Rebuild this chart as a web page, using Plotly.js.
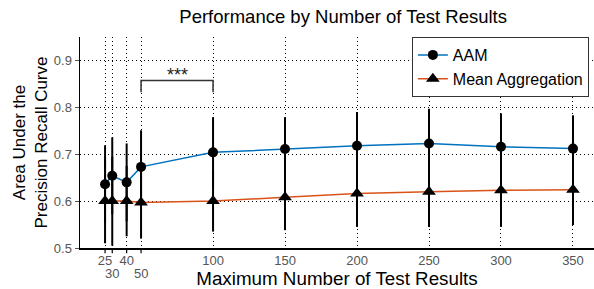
<!DOCTYPE html>
<html>
<head>
<meta charset="utf-8">
<script src="https://cdn.plot.ly/plotly-3.0.1.min.js"></script>
<style>html,body{margin:0;padding:0;background:#fff;}#chart{width:594px;height:289px;}</style>
</head>
<body>
<div id="chart"></div>
<script>
// Data
const xVals = [25, 30, 40, 50, 100, 150, 200, 250, 300, 350];
const aamMean = [0.636, 0.654, 0.640, 0.673, 0.704, 0.711, 0.718, 0.723, 0.716, 0.712];
const aamErr  = [0.083, 0.082, 0.083, 0.078, 0.075, 0.068, 0.072, 0.074, 0.071, 0.071];
const aggMean = [0.600, 0.600, 0.600, 0.597, 0.600, 0.608, 0.616, 0.620, 0.623, 0.624];
const aggErr  = [0.090, 0.095, 0.075, 0.077, 0.065, 0.070, 0.071, 0.075, 0.078, 0.075];
const tickVals = [25, 30, 40, 50, 100, 150, 200, 250, 300, 350];
const tickLabels = ["25", "30", "40", "50", "100", "150", "200", "250", "300", "350"];
const lowerRowTicks = [30, 50];
const yTickVals = [0.5, 0.6, 0.7, 0.8, 0.9];
const sigPair = [50, 100];
const sigLabel = "***";

const fontFam = "Liberation Sans, Arial, Helvetica, sans-serif";

const traces = [
  {
    x: xVals, y: aamMean, name: "AAM", type: "scatter", mode: "lines+markers",
    line: {color: "#0072BD", width: 1.5},
    marker: {symbol: "circle", size: 10, color: "#000"},
    error_y: {type: "data", array: aamErr, visible: true, color: "#000", thickness: 2, width: 0}
  },
  {
    x: xVals, y: aggMean, name: "Mean Aggregation", type: "scatter", mode: "lines+markers",
    line: {color: "#D95319", width: 1.5},
    marker: {symbol: "triangle-up", size: 12, color: "#000"},
    error_y: {type: "data", array: aggErr, visible: true, color: "#000", thickness: 2, width: 0}
  }
];

const shapes = [];
const annotations = [];
// short tick marks for the densely packed ticks
tickVals.filter(v => v < 100).forEach(v => {
  shapes.push({type: "line", xref: "x", yref: "paper", x0: v, x1: v, y0: 0, y1: -0.025,
    line: {color: "#000", width: 1.2}});
});
// staggered lower-row tick labels
lowerRowTicks.forEach(v => {
  annotations.push({x: v, xref: "x", y: 0, yref: "paper", yanchor: "top", yshift: -16,
    text: tickLabels[tickVals.indexOf(v)], showarrow: false,
    font: {family: fontFam, size: 13, color: "#555"}});
});
// significance bracket
const bTop = 0.857, bLeg = 0.832;
shapes.push({type: "path", xref: "x", yref: "y",
  path: `M ${sigPair[0]} ${bLeg} L ${sigPair[0]} ${bTop} L ${sigPair[1]} ${bTop} L ${sigPair[1]} ${bLeg}`,
  line: {color: "#333", width: 1.5}});
annotations.push({x: (sigPair[0] + sigPair[1]) / 2, xref: "x", y: bTop, yref: "y", yanchor: "bottom",
  yshift: -6, text: sigLabel, showarrow: false, font: {family: fontFam, size: 18, color: "#222"}});

const layout = {
  width: 594, height: 289,
  margin: {l: 80, r: 0, t: 37, b: 41},
  paper_bgcolor: "#fff", plot_bgcolor: "#fff",
  font: {family: fontFam, color: "#000"},
  title: {text: "Performance by Number of Test Results", x: 0.512, xref: "paper",
    y: 0.965, yref: "container", yanchor: "top",
    font: {family: fontFam, size: 18.5, color: "#000"}},
  showlegend: true,
  legend: {x: 0.99, xanchor: "right", y: 1, yanchor: "top", bordercolor: "#333", borderwidth: 1,
    bgcolor: "#fff", font: {family: fontFam, size: 16, color: "#000"}},
  xaxis: {
    range: [7.6, 364.6], tickmode: "array", tickvals: tickVals,
    ticktext: tickVals.map((v, i) => lowerRowTicks.includes(v) ? "" : tickLabels[i]),
    tickfont: {family: fontFam, size: 13, color: "#555"}, ticks: "",
    showgrid: true, gridcolor: "#000", griddash: "1px,3px", gridwidth: 1,
    showline: true, linecolor: "#000", linewidth: 1.5, zeroline: false,
    title: {text: "Maximum Number of Test Results", font: {family: fontFam, size: 18.8, color: "#000"}, standoff: 5},
    automargin: false
  },
  yaxis: {
    range: [0.5, 0.95], tickmode: "array", tickvals: yTickVals, ticktext: yTickVals.map(v => v.toFixed(1)),
    tickfont: {family: fontFam, size: 13, color: "#555"}, ticks: "outside", ticklen: 4, tickcolor: "#555",
    showgrid: true, gridcolor: "#000", griddash: "1px,3px", gridwidth: 1,
    showline: true, linecolor: "#000", linewidth: 1.5, zeroline: false,
    title: {text: "Area Under the<br>Precision Recall Curve", font: {family: fontFam, size: 17, color: "#000"}, standoff: 2},
    automargin: false
  },
  shapes: shapes,
  annotations: annotations
};

Plotly.newPlot("chart", traces, layout, {displayModeBar: false, staticPlot: true});
</script>
</body>
</html>
